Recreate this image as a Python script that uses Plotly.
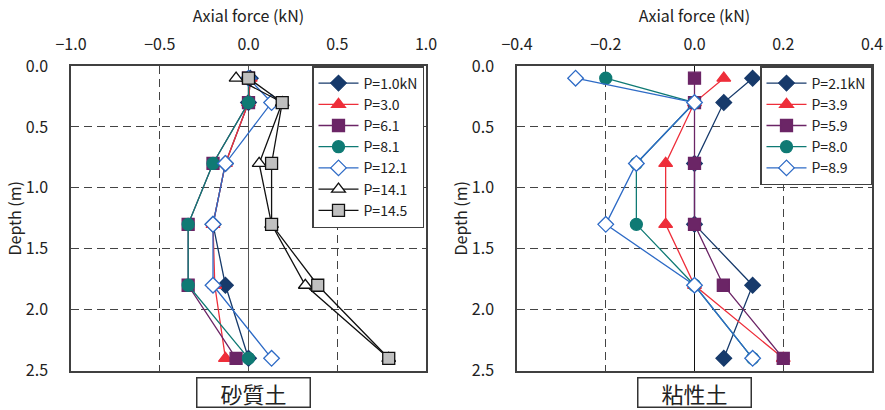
import plotly.graph_objects as go

# Depths of the gauges (m)
depths = [0.1, 0.3, 0.8, 1.3, 1.8, 2.4]

# Sandy soil (砂質土): axial force (kN) per load step
sand_labels = ["P=1.0kN", "P=3.0", "P=6.1", "P=8.1", "P=12.1", "P=14.1", "P=14.5"]
sand_p10 = [0.01, 0.0, -0.13, -0.20, -0.13, 0.0]
sand_p30 = [0.01, 0.0, -0.13, -0.20, -0.19, -0.13]
sand_p61 = [0.0, 0.0, -0.20, -0.34, -0.34, -0.07]
sand_p81 = [0.0, 0.0, -0.20, -0.34, -0.34, 0.0]
sand_p121 = [0.0, 0.13, -0.13, -0.20, -0.20, 0.13]
sand_p141 = [-0.07, 0.19, 0.06, 0.13, 0.32, 0.79]
sand_p145 = [0.0, 0.19, 0.13, 0.13, 0.39, 0.79]

# Clay soil (粘性土): axial force (kN) per load step
clay_labels = ["P=2.1kN", "P=3.9", "P=5.9", "P=8.0", "P=8.9"]
clay_p21 = [0.131, 0.066, 0.0, 0.0, 0.131, 0.066]
clay_p39 = [0.066, 0.0, -0.065, -0.065, 0.0, 0.2]
clay_p59 = [0.0, 0.0, 0.0, 0.0, 0.065, 0.2]
clay_p80 = [-0.2, 0.0, -0.131, -0.131, 0.0, 0.131]
clay_p89 = [-0.268, 0.0, -0.131, -0.2, 0.0, 0.131]

NAVY = "#173a6b"
RED = "#ee2e3a"
PURPLE = "#6b2566"
TEAL = "#0f7a74"
BLUE = "#2e6bc6"
BLACK = "#111111"
GRAY = "#c0c0c0"

# (values, line colour, symbol, fill colour, outline colour)
sand_styles = [
    (sand_p10, NAVY, "diamond", NAVY, NAVY),
    (sand_p30, RED, "triangle-up", RED, RED),
    (sand_p61, PURPLE, "square", PURPLE, PURPLE),
    (sand_p81, TEAL, "circle", TEAL, TEAL),
    (sand_p121, BLUE, "diamond", "white", BLUE),
    (sand_p141, BLACK, "triangle-up", "white", BLACK),
    (sand_p145, BLACK, "square", GRAY, BLACK),
]
clay_styles = [
    (clay_p21, NAVY, "diamond", NAVY, NAVY),
    (clay_p39, RED, "triangle-up", RED, RED),
    (clay_p59, PURPLE, "square", PURPLE, PURPLE),
    (clay_p80, TEAL, "circle", TEAL, TEAL),
    (clay_p89, BLUE, "diamond", "white", BLUE),
]

W, H = 885, 410
FONT = "Noto Sans CJK JP, Noto Sans, sans-serif"
TXT = "#222222"

fig = go.Figure()


def add_series(labels, styles, xa, ya, legend):
    for name, (vals, lc, sym, fill, edge) in zip(labels, styles):
        fig.add_trace(go.Scatter(
            x=vals, y=depths, name=name, mode="lines+markers",
            xaxis=xa, yaxis=ya, legend=legend,
            line=dict(color=lc, width=1.3),
            marker=dict(symbol=sym, size=12,
                        color=fill, line=dict(color=edge, width=1.3)),
        ))


add_series(sand_labels, sand_styles, "x", "y", "legend")
add_series(clay_labels, clay_styles, "x2", "y2", "legend2")

plot_top = 66
plot_bot = 370.5
ydom = [1 - plot_bot / H, 1 - plot_top / H]

common_x = dict(
    side="top", showline=True, mirror=True, linecolor="#404040", linewidth=1.5,
    showgrid=True, gridcolor="#444444", gridwidth=1, griddash="8px,5px",
    zeroline=True, zerolinecolor="#555555", zerolinewidth=1,
    ticks="", tickformat=".1f", tickfont=dict(size=16, color=TXT),
    ticklabelstandoff=8, automargin=False,
    title=dict(text="Axial force (kN)", font=dict(size=16, color=TXT), standoff=4),
    fixedrange=True,
)
common_y = dict(
    range=[2.5, 0], dtick=0.5, tickformat=".1f",
    showline=True, mirror=True, linecolor="#404040", linewidth=1.5,
    showgrid=True, gridcolor="#444444", gridwidth=1, griddash="8px,5px",
    zeroline=False, ticks="", ticklabelstandoff=18, automargin=False,
    tickfont=dict(size=16, color=TXT),
    title=dict(text="Depth (m)", font=dict(size=16, color=TXT), standoff=0),
    domain=ydom, fixedrange=True,
)

legend_common = dict(
    bgcolor="white", bordercolor="#404040", borderwidth=1.5,
    font=dict(size=14, color=TXT, family=FONT),
    xanchor="right", yanchor="top", y=1 - plot_top / H,
    itemwidth=40, tracegroupgap=0,
)

box_label = dict(
    yref="paper", y=1 - 392 / H, yanchor="middle", xanchor="center",
    showarrow=False, font=dict(size=22, color=TXT, family=FONT),
    width=110, height=26, borderpad=1, bordercolor="#333333",
    borderwidth=1.5, bgcolor="white",
)

fig.update_layout(
    width=W, height=H,
    margin=dict(l=0, r=0, t=0, b=0, autoexpand=False),
    paper_bgcolor="white", plot_bgcolor="white",
    font=dict(family=FONT, color=TXT),
    xaxis=dict(domain=[71 / W, 426 / W], range=[-1, 1], dtick=0.5,
               anchor="y", **common_x),
    yaxis=dict(anchor="x", **common_y),
    xaxis2=dict(domain=[517 / W, 872 / W], range=[-0.4, 0.4], dtick=0.2,
                anchor="y2", **{**common_x, "zerolinecolor": "#111111"}),
    yaxis2=dict(anchor="x2", **common_y),
    legend=dict(x=424 / W, **legend_common),
    legend2=dict(x=872 / W, **legend_common),
    showlegend=True,
    annotations=[
        dict(text="砂質土", xref="x", x=0.03, **box_label),
        dict(text="粘性土", xref="x2", x=0.0, **box_label),
    ],
)

fig.write_html("out.html")
